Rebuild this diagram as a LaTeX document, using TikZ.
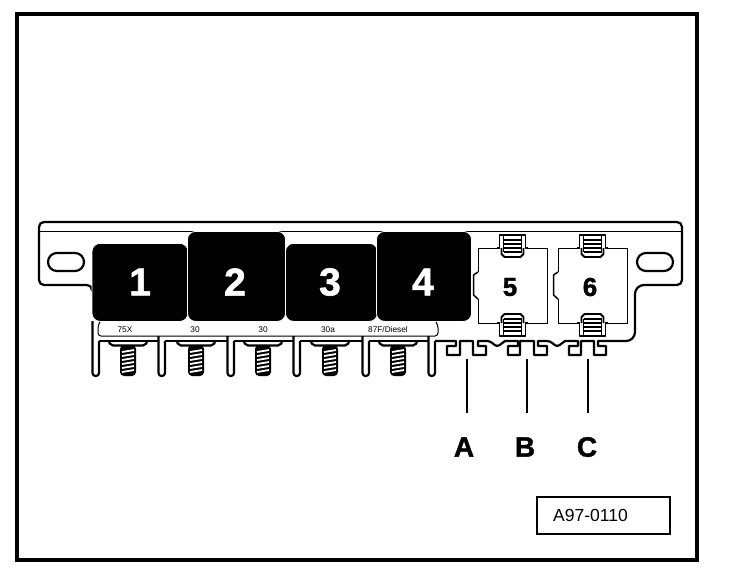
\documentclass[tikz,border=0pt]{standalone}
\usepackage{fontspec}
\setmainfont{Liberation Sans}
\newfontfamily\grueso{Liberation Sans Bold}[FakeBold=1.4]
\tikzset{
  relaybox/.style={fill=black,draw=white,line width=0.8pt,rounded corners=8pt,inner sep=0pt},
  relaynum/.style={text=white,inner sep=0pt,font=\fontsize{39}{39}\grueso\selectfont},
  fusebox/.style={draw=black,line width=0.9pt,fill=white,minimum width=69pt,minimum height=75pt,inner sep=0pt},
  fusenum/.style={inner sep=0pt,font=\fontsize{26}{26}\grueso\selectfont},
  letra/.style={inner sep=0pt,font=\fontsize{28}{28}\grueso\selectfont},
  rotulo/.style={font=\fontsize{8.3}{8.3}\selectfont,inner sep=0pt},
  linea/.style={line width=2.2pt,line join=round},
  fino/.style={line width=1pt,line join=round},
}
\begin{document}
\begin{tikzpicture}[x=1pt,y=-1pt]
    \useasboundingbox (0,0) rectangle (736,574);

    % Marco
    \draw[line width=3.6pt] (17,14) rectangle (697,560);

    % Placa, contorno
    \draw[linea] (92,291) [rounded corners=5pt] -- (92,285) -- (39,285) -- (39,222) -- (682,222) -- (682,285)
        [rounded corners=9pt] -- (635,285) -- (635,341) [sharp corners]
        -- (598,341) -- (598,346) -- (606,346) -- (606,355) -- (594,355) -- (594,341)
        -- (581,341) -- (581,355) -- (569,355) -- (569,346) -- (578,346) -- (578,341)
        -- (565,341) [rounded corners=3pt] -- (557,347) -- (550,341) [sharp corners]
        -- (538,341) -- (538,346) -- (547,346) -- (547,355) -- (534,355) -- (534,341)
        -- (520,341) -- (520,355) -- (508,355) -- (508,346) -- (518,346) -- (518,341)
        -- (505,341) [rounded corners=3pt] -- (497,347) -- (490,341) [sharp corners]
        -- (478,341) -- (478,346) -- (486,346) -- (486,355) -- (473,355) -- (473,341)
        -- (460,341) -- (460,355) -- (447,355) -- (447,346) -- (456,346) -- (456,341) -- (435,341);
    \draw[fino] (39,231) -- (682,231);

    % Agujeros
    \draw[linea] (57,253) -- (75,253) arc (-90:90:9) -- (57,271) arc (90:270:9) -- cycle;
    \draw[linea] (646,253) -- (664,253) arc (-90:90:9) -- (646,271) arc (90:270:9) -- cycle;

    % Rele 1 a 4
    \foreach \nombre/\x/\xn/\ytop/\ancho/\alto/\num in {reluno/140/140/243/96/78/1,reldos/236.5/235/231/98/90/2,reltres/331.5/330/243/92/78/3,relcuatro/424/423/231/95/90/4}{
        \node[relaybox,anchor=north,minimum width=\ancho pt,minimum height=\alto pt] (\nombre) at (\x,\ytop) {};
        \node[relaynum] (\nombre num) at (\xn,282) {\num};
    }

    % Tira de rotulos
    \draw[fino] (100,322) [rounded corners=3pt] -- (98,325) -- (98,336) -- (438,336) -- (438,325) [sharp corners] -- (436,322);
    \foreach \nombre/\x/\xtext in {runo/125/75X,rdos/195/30,rtres/263/30,rcuatro/328/30a,rcinco/388/{87F/Diesel}}
        \node[rotulo] (\nombre) at (\x,330) {\xtext};

    % Peine con patillas
    \draw[linea] (99,341) -- (158,341) (165,341) -- (227,341) (234,341) -- (293,341) (300,341) -- (362,341) (369,341) -- (428,341);
    \foreach \x/\ytop in {92.5/321,158.5/336,227.5/336,293.5/336,362.5/336,428.5/336}
        \draw[linea,rounded corners=3pt] (\x,\ytop) -- (\x,376) -- (\x+6.5,376) -- (\x+6.5,341);

    % Tornillos
    \foreach \x in {128,196,263,330,398}{
        \draw[linea,rounded corners=2pt] (\x-19,342) -- (\x-17,345.5) -- (\x+17,345.5) -- (\x+19,342);
        \fill[black,rounded corners=4pt] (\x-8,345) -- (\x-8,376) -- (\x+8,376) -- (\x+8,345) -- cycle;
        \foreach \y in {351,355,359,363,367,371}
            \draw[white,line width=1.8pt] (\x-6,\y+1) -- (\x+6,\y-1);
    }

    % Fusibles 5 y 6
    \foreach \nombre/\x/\num in {fuscinco/512.5/5,fusseis/592.5/6}{
        \node[fusebox] (\nombre) at (\x,285.5) {};
        \node[fusenum] (\nombre num) at (\x-2.5,287) {\num};
        % muesca izquierda
        \draw[draw=white,line width=1.4pt] (\x-34.5,272) -- (\x-34.5,299);
        \draw[linea,line width=1.5pt] (\x-34.5,272) -- (\x-39,275) -- (\x-39,295) -- (\x-34.5,299);
        % grapas
        \foreach \yc/\s in {246/1,325/-1}{
            \fill[white] (\x-13,\yc-11*\s) rectangle (\x+13,\yc+11*\s);
            \draw[linea,line width=1.8pt] (\x-15.5,\yc+2*\s) -- (\x-13,\yc+2*\s) -- (\x-13,\yc-11*\s) -- (\x+13,\yc-11*\s) -- (\x+13,\yc+2*\s) -- (\x+15.5,\yc+2*\s);
            \draw[linea,line width=1.8pt] (\x-11,\yc+2*\s) -- (\x-11,\yc+8*\s) -- (\x-8,\yc+11*\s) -- (\x+8,\yc+11*\s) -- (\x+11,\yc+8*\s) -- (\x+11,\yc+2*\s);
            \draw[line width=1.3pt] (\x-9,\yc-10*\s) -- (\x-9,\yc+6*\s) (\x+9,\yc-10*\s) -- (\x+9,\yc+6*\s);
            \foreach \d in {-6,-2,2,6}
                \draw[line width=1.3pt] (\x-9,\yc+\d*\s) -- (\x+9,\yc+\d*\s);
        }
    }

    % Letras y lineas
    \foreach \nombre/\x/\xl/\xtext in {A/467/464/A,B/527/525/B,C/588/587/C}{
        \node[letra] (let\nombre) at (\xl,447) {\xtext};
        \coordinate (top\nombre) at (\x,359);
        \coordinate (bot\nombre) at (\x,413);
        \draw[line width=2pt] (top\nombre) -- (bot\nombre);
    }

    % Referencia
    \node[draw,line width=2.4pt,minimum width=133pt,minimum height=37pt,inner sep=0pt,font=\fontsize{17.5}{17.5}\selectfont] (refbox) at (603.5,515.5) {\hspace{-26pt}A97-0110};
\end{tikzpicture}
\end{document}
